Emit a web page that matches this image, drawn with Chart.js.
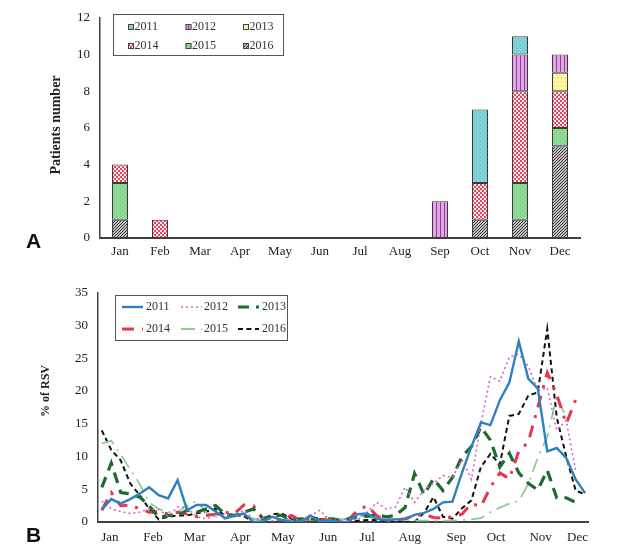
<!DOCTYPE html>
<html>
<head>
<meta charset="utf-8">
<script src="https://cdn.jsdelivr.net/npm/chart.js@4.4.1/dist/chart.umd.min.js"></script>
<style>
  body { margin: 0; background: #fff; width: 619px; height: 554px; position: relative; overflow: hidden; }
  #wrapA { position: absolute; left: 0; top: 0; }
  #wrapB { position: absolute; left: 0; top: 275px; }
  .tag { position: absolute; font: bold 21px "Liberation Sans", Arial, sans-serif; color: #111; }
</style>
</head>
<body>
<div id="wrapA"><canvas id="chartA" width="619" height="265"></canvas></div>
<div id="wrapB"><canvas id="chartB" width="619" height="279"></canvas></div>
<div class="tag" style="left:26px;top:229px">A</div>
<div class="tag" style="left:26px;top:523px">B</div>

<script>
// --- data ---
const months = ['Jan', 'Feb', 'Mar', 'Apr', 'May', 'Jun', 'Jul', 'Aug', 'Sep', 'Oct', 'Nov', 'Dec'];
const years = ['2011', '2012', '2013', '2014', '2015', '2016'];

// A: patients per month, one array per year
const pat2011 = [0, 0, 0, 0, 0, 0, 0, 0, 0, 4, 1, 0];
const pat2012 = [0, 0, 0, 0, 0, 0, 0, 0, 2, 0, 2, 1];
const pat2013 = [0, 0, 0, 0, 0, 0, 0, 0, 0, 0, 0, 1];
const pat2014 = [1, 1, 0, 0, 0, 0, 0, 0, 0, 2, 5, 2];
const pat2015 = [2, 0, 0, 0, 0, 0, 0, 0, 0, 0, 2, 1];
const pat2016 = [1, 0, 0, 0, 0, 0, 0, 0, 0, 1, 1, 5];
const patientTicks = [0, 2, 4, 6, 8, 10, 12];

// B: weekly % of RSV (52 weeks)
const rsv2011 = [1.9, 3.5, 2.8, 3.5, 4.3, 5.3, 4.1, 3.6, 6.4, 1.8,
  2.6, 2.6, 1.6, 0.6, 1.0, 1.3, 0.0, 0.1, 0.8, 0.3,
  0.1, 0.0, 1.0, 0.1, 0.2, 0.0, 0.0, 1.2, 1.3, 0.5,
  0.3, 0.4, 0.4, 1.1, 1.4, 2.0, 3.0, 3.1, 7.5, 11.5,
  15.2, 14.8, 18.6, 21.3, 27.6, 21.9, 20.4, 10.8, 11.3, 9.8,
  6.5, 4.4];
const rsv2012 = [3.2, 2.0, 1.6, 1.3, 1.5, 2.0, 1.9, 0.9, 2.3, 2.2,
  0.8, 0.5, 1.0, 1.2, 0.9, 1.8, 0.4, 0.6, 0.2, 0.4,
  0.6, 0.2, 0.9, 1.8, 0.4, 0.2, 0.6, 0.3, 1.5, 3.0,
  2.0, 2.3, 5.3, 3.0, 4.9, 5.9, 7.1, 6.8, 9.5, 6.5,
  15.0, 22.2, 21.5, 25.2, 25.6, 23.8, 20.0, 20.5, 14.0, 15.5,
  7.8, null];
const rsv2013 = [5.3, 9.0, 4.5, 4.3, 3.8, 2.5, 0.7, 1.0, 1.0, 1.8,
  1.5, 2.0, 2.5, 1.2, 1.0, 1.5, 2.0, 0.5, 1.0, 1.0,
  0.2, 0.5, 0.5, 0.3, 0.5, 0.3, 0.5, 0.8, 0.9, 1.1,
  0.8, 1.0, 2.2, 7.4, 4.2, 6.6, 4.8, 6.8, 10.0, 11.5,
  14.5, 12.5, 8.4, 10.5, 7.5, 5.9, 4.9, 7.9, 3.7, 3.7,
  3.0, null];
const rsv2014 = [1.8, 4.5, 2.5, 2.6, 2.0, 1.5, 1.6, 1.2, 1.5, 1.2,
  0.8, 1.0, 1.2, 1.5, 1.3, 2.6, 2.5, 0.5, 0.5, 0.3,
  1.0, 0.2, 0.5, 0.3, 0.3, 0.0, 0.3, 1.8, 2.5, 1.0,
  0.2, 0.3, 0.5, 1.0, 1.2, 0.7, 0.6, 0.8, 1.2, 2.8,
  2.4, 5.3, 7.5, 6.6, 10.8, 12.2, 17.5, 22.8, 19.5, 15.0,
  18.7, null];
const rsv2015 = [12.0, 12.4, 10.3, 8.0, 5.8, 3.0, 2.0, 1.5, 1.5, 2.5,
  3.2, 1.5, 0.8, 0.5, 0.8, 1.2, 0.5, 0.2, 0.5, 0.3,
  0.3, 0.2, 0.3, 0.5, 0.8, 0.4, 0.5, 1.0, 0.8, 0.5,
  0.5, 0.4, 0.3, 0.2, 0.2, 0.2, 0.2, 0.2, 0.3, 0.4,
  0.6, 1.5, 2.2, 2.8, 3.2, 5.8, 9.8, 13.0, 19.2, 16.0,
  15.5, null];
const rsv2016 = [14.0, 11.0, 9.4, 5.9, 4.1, 2.0, 0.4, 0.8, 1.0, 1.0,
  1.3, 1.6, 2.0, 1.0, 1.1, 0.9, 0.0, 0.0, 1.2, 1.3,
  0.5, 0.0, 0.8, 0.5, 0.3, 0.1, 0.0, 0.2, 0.3, 0.3,
  0.2, 0.0, 0.0, 0.0, 1.4, 3.8, 0.8, 0.5, 2.1, 3.3,
  8.4, 10.4, 8.8, 16.2, 16.5, 19.3, 19.8, 29.5, 16.0, 10.0,
  4.8, 4.2];
const rsvTicks = [0, 5, 10, 15, 20, 25, 30, 35];
// week index where each month label sits
const monthWeek = [0.85, 5.4, 9.8, 14.6, 19.1, 23.9, 28, 32.5, 37.4, 41.6, 46.3, 50.2];

const patients = [pat2011, pat2012, pat2013, pat2014, pat2015, pat2016];
const rsv = [rsv2011, rsv2012, rsv2013, rsv2014, rsv2015, rsv2016];

// --- styles ---
Chart.defaults.font.family = '"Liberation Serif", "Times New Roman", serif';
Chart.defaults.color = '#222';

function pattern(size, bg, draw) {
  const c = document.createElement('canvas');
  c.width = size; c.height = size;
  const g = c.getContext('2d');
  g.fillStyle = bg;
  g.fillRect(0, 0, size, size);
  draw(g);
  return g.createPattern(c, 'repeat');
}

const fills = [
  pattern(4, '#80d4da', g => { g.fillStyle = '#5fb6bd'; g.fillRect(0, 0, 1, 1); g.fillRect(2, 2, 1, 1); }),
  pattern(4, '#e4a4ea', g => { g.fillStyle = '#8c4294'; g.fillRect(0, 0, 1, 4); }),
  pattern(4, '#fff59e', g => { g.fillStyle = '#eadf82'; g.fillRect(1, 1, 1, 1); }),
  pattern(4, '#fbe4e7', g => { g.fillStyle = '#dc4b5f'; g.fillRect(0, 0, 2, 2); g.fillRect(2, 2, 2, 2); }),
  pattern(4, '#8edc96', g => { g.fillStyle = '#70c47b'; g.fillRect(0, 0, 1, 1); g.fillRect(2, 2, 1, 1); }),
  pattern(3, '#c4c4c4', g => { g.fillStyle = '#333333'; g.fillRect(2, 0, 1, 1); g.fillRect(1, 1, 1, 1); g.fillRect(0, 2, 1, 1); })
];

const lineStyles = [
  { color: '#2f80c0', width: 2.4, dash: [] },
  { color: '#cc66cc', width: 1.6, dash: [2, 3] },
  { color: '#1e6b2e', width: 3.2, dash: [11, 7] },
  { color: '#e8364f', width: 3, dash: [12, 8, 3, 8] },
  { color: '#8ccf95', width: 1.8, dash: [14, 6, 2, 6] },
  { color: '#111111', width: 2, dash: [5, 3.5] }
];

const tickFont = { size: 13 };

// rotated y title drawn at a fixed spot
const sideTitle = {
  id: 'sideTitle',
  afterDraw(chart, args, opts) {
    const ctx = chart.ctx;
    ctx.save();
    ctx.translate(opts.x, opts.y);
    ctx.rotate(-Math.PI / 2);
    ctx.font = opts.font;
    ctx.fillStyle = '#222';
    ctx.textAlign = 'center';
    ctx.textBaseline = 'middle';
    ctx.fillText(opts.text, 0, 0);
    ctx.restore();
  }
};

// boxed 3x2 legend for the bars
const legendA = {
  id: 'legendA',
  afterDraw(chart) {
    const ctx = chart.ctx;
    ctx.save();
    ctx.strokeStyle = '#555';
    ctx.lineWidth = 1;
    ctx.strokeRect(113.5, 14.5, 170, 41);
    ctx.font = '12px "Liberation Serif"';
    ctx.textBaseline = 'middle';
    years.forEach((y, i) => {
      const x = 128 + (i % 3) * 57.5;
      const cy = 27 + Math.floor(i / 3) * 19;
      ctx.fillStyle = fills[i];
      ctx.fillRect(x, cy - 3, 6, 6);
      ctx.strokeStyle = '#444';
      ctx.strokeRect(x + 0.5, cy - 2.5, 5, 5);
      ctx.fillStyle = '#333';
      ctx.fillText(y, x + 6.5, cy);
    });
    ctx.restore();
  }
};

// boxed 3x2 legend for the lines
const legendB = {
  id: 'legendB',
  afterDraw(chart) {
    const ctx = chart.ctx;
    ctx.save();
    ctx.strokeStyle = '#555';
    ctx.lineWidth = 1;
    ctx.setLineDash([]);
    ctx.strokeRect(115.5, 20.5, 172, 45);
    ctx.font = '12px "Liberation Serif"';
    ctx.textBaseline = 'middle';
    const sx = [122, 181, 238];
    const tx = [146, 204, 262];
    years.forEach((y, i) => {
      const col = i % 3;
      const cy = 32 + Math.floor(i / 3) * 22;
      const st = lineStyles[i];
      ctx.strokeStyle = st.color;
      ctx.lineWidth = st.width;
      ctx.setLineDash(st.dash);
      ctx.beginPath();
      ctx.moveTo(sx[col], cy);
      ctx.lineTo(sx[col] + 21, cy);
      ctx.stroke();
      ctx.setLineDash([]);
      ctx.fillStyle = '#333';
      ctx.fillText(y, tx[col], cy);
    });
    ctx.restore();
  }
};

// --- A: stacked bars, 2016 at the bottom ---
const stackOrder = [5, 4, 3, 2, 1, 0];

new Chart(document.getElementById('chartA'), {
  type: 'bar',
  data: {
    labels: months,
    datasets: stackOrder.map(i => ({
      label: years[i],
      data: patients[i].map(v => v || null),
      backgroundColor: fills[i],
      borderColor: '#3a3a3a',
      borderWidth: 1,
      borderSkipped: false,
      barPercentage: 0.4,
      categoryPercentage: 1
    }))
  },
  options: {
    responsive: false,
    animation: false,
    layout: { padding: { top: 13, right: 39, left: 0, bottom: 0 } },
    plugins: {
      legend: { display: false },
      tooltip: { enabled: false },
      sideTitle: { text: 'Patients number', x: 56, y: 125, font: 'bold 14px "Liberation Serif"' }
    },
    scales: {
      x: {
        stacked: true,
        grid: { display: false, drawTicks: false },
        border: { color: '#404040', width: 2 },
        ticks: { font: tickFont, padding: 6 },
        afterFit: s => { s.height = 27; }
      },
      y: {
        stacked: true,
        min: 0,
        max: 12,
        afterBuildTicks: s => { s.ticks = patientTicks.map(v => ({ value: v })); },
        grid: { display: false, drawTicks: false },
        border: { color: '#404040', width: 1.5 },
        ticks: { font: tickFont, padding: 10 },
        afterFit: s => { s.width = 100; }
      }
    }
  },
  plugins: [legendA, sideTitle]
});

// --- B: weekly lines ---
new Chart(document.getElementById('chartB'), {
  type: 'line',
  data: {
    datasets: years.map((y, i) => ({
      label: y,
      data: rsv[i].map((v, k) => ({ x: k, y: v })),
      borderColor: lineStyles[i].color,
      borderWidth: lineStyles[i].width,
      borderDash: lineStyles[i].dash,
      pointRadius: 0,
      tension: 0,
      fill: false
    }))
  },
  options: {
    responsive: false,
    animation: false,
    layout: { padding: { top: 17, right: 31, left: 0, bottom: 0 } },
    plugins: {
      legend: { display: false },
      tooltip: { enabled: false },
      sideTitle: { text: '% of RSV', x: 46, y: 116, font: 'bold 12px "Liberation Serif"' }
    },
    scales: {
      x: {
        type: 'linear',
        min: -0.4,
        max: 51.3,
        afterBuildTicks: s => { s.ticks = monthWeek.map(v => ({ value: v })); },
        grid: { display: false, drawTicks: false },
        border: { color: '#404040', width: 2 },
        ticks: { font: tickFont, padding: 8, autoSkip: false, maxRotation: 0,
          callback: (v, idx) => months[idx] },
        afterFit: s => { s.height = 32; }
      },
      y: {
        min: 0,
        max: 35,
        afterBuildTicks: s => { s.ticks = rsvTicks.map(v => ({ value: v })); },
        grid: { display: false, drawTicks: false },
        border: { color: '#404040', width: 1.5 },
        ticks: { font: tickFont, padding: 10 },
        afterFit: s => { s.width = 98; }
      }
    }
  },
  plugins: [legendB, sideTitle]
});
</script>
</body>
</html>
